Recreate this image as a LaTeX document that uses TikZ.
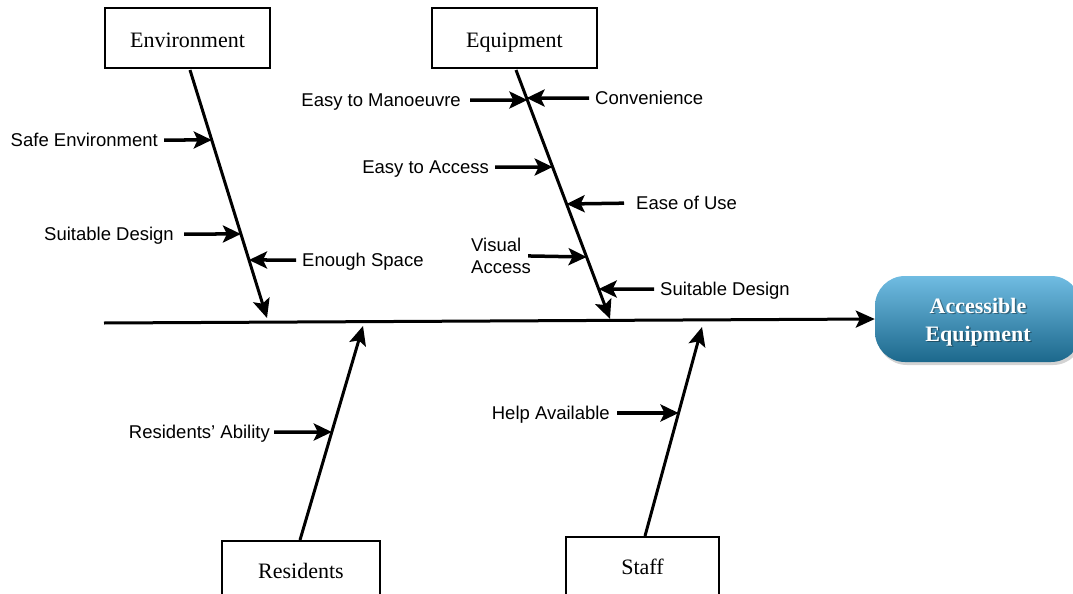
\documentclass[tikz,border=0pt]{standalone}
\usepackage{fontspec}
\setmainfont{Liberation Serif}
\setsansfont{Liberation Sans}
\usetikzlibrary{arrows.meta,shadows,calc}
\definecolor{headtop}{RGB}{112,188,226}
\definecolor{headbot}{RGB}{28,104,140}
\begin{document}
\begin{tikzpicture}[x=1pt,y=-1pt,
  cat/.style={draw,line width=1.6pt,minimum width=165pt,minimum height=60pt,
    inner sep=0pt,text height=18.6pt,text depth=0pt,font=\fontsize{22}{26}\selectfont},
  cause/.style={font=\sffamily\fontsize{18.5}{22}\selectfont,inner sep=0pt,
    text height=13pt,text depth=0pt},
  bone/.style={line width=3pt,-{Stealth[length=19pt,width=17pt,inset=4pt]}},
  twig/.style={line width=3.5pt,-{Stealth[length=18pt,width=17pt,inset=4pt]}},
  head/.style={rounded corners=30pt,minimum width=206pt,minimum height=86pt,
    top color=headtop,bottom color=headbot,
    drop shadow={opacity=0.35,shadow xshift=2pt,shadow yshift=-3pt}},
  headtext/.style={align=center,font=\bfseries\fontsize{22}{28}\selectfont}
]
\useasboundingbox (0,0) rectangle (1073,594);

% category boxes
\node[cat] (env) at (187.5,38) {Environment};
\node[cat] (equip) at (514.5,38) {Equipment};
\node[cat,minimum width=158pt,minimum height=64pt,text height=10.6pt,anchor=north] (res) at (301,540) {Residents};
\node[cat,minimum width=153pt,minimum height=64pt,text height=10.6pt,anchor=north] (staff) at (642.5,536) {Staff};

% effect
\node[head] (effect) at (978,319) {};
\node[headtext,text=black,opacity=0.35] (effectshade) at ($(effect)+(1.5,4.5)$) {Accessible\\Equipment};
\node[headtext,text=white] (effectlabel) at ($(effect)+(0,3)$) {Accessible\\Equipment};

% spine
\coordinate (tail) at (104,323);
\draw[bone] (tail) -- (effect.west);

% main bones
\coordinate (envTop) at (190,70);
\coordinate (envTip) at (267,318);
\coordinate (equipTop) at (516,70);
\coordinate (equipTip) at (610,319);
\coordinate (resBot) at (300,540);
\coordinate (resTip) at (363,326);
\coordinate (staffBot) at (645,536);
\coordinate (staffTip) at (702,327);
\draw[bone] (envTop) -- (envTip);
\draw[bone] (equipTop) -- (equipTip);
\draw[bone] (resBot) -- (resTip);
\draw[bone] (staffBot) -- (staffTip);

% causes: Environment
\node[cause,anchor=east] (c1) at (158,140) {Safe Environment};
\coordinate (t1) at (intersection of envTop--envTip and 0,140--1,140);
\draw[twig,shorten <=6pt] (c1.east) -- (t1);

\node[cause,anchor=east] (c2) at (174,234) {Suitable Design};
\coordinate (t2) at (intersection of envTop--envTip and 0,234--1,234);
\draw[twig,shorten <=10pt] (c2.east) -- (t2);

\node[cause,anchor=west] (c3) at (302,260) {Enough Space};
\coordinate (t3) at (intersection of envTop--envTip and 0,260--1,260);
\draw[twig,shorten <=6pt] (c3.west) -- (t3);

% causes: Equipment
\node[cause,anchor=east] (c4) at (461,100) {Easy to Manoeuvre};
\coordinate (t4) at (intersection of equipTop--equipTip and 0,100--1,100);
\draw[twig,shorten <=9pt] (c4.east) -- (t4);

\node[cause,anchor=west] (c5) at (595,98) {Convenience};
\coordinate (t5) at (intersection of equipTop--equipTip and 0,98--1,98);
\draw[twig,shorten <=6pt] (c5.west) -- (t5);

\node[cause,anchor=east] (c6) at (489,167) {Easy to Access};
\coordinate (t6) at (intersection of equipTop--equipTip and 0,167--1,167);
\draw[twig,shorten <=6pt] (c6.east) -- (t6);

\node[cause,anchor=west] (c7) at (636,203) {Ease of Use};
\coordinate (t7) at (intersection of equipTop--equipTip and 0,204--1,204);
\draw[twig,shorten <=12pt] (c7.west) -- (t7);

\node[cause,anchor=west,align=left,text height=,text depth=] (c8) at (471,256) {Visual\\Access};
\coordinate (t8) at (intersection of equipTop--equipTip and 0,257--1,257);
\draw[twig,shorten <=-3pt] (c8.east) -- (t8);

\node[cause,anchor=west] (c9) at (660,289) {Suitable Design};
\coordinate (t9) at (intersection of equipTop--equipTip and 0,289--1,289);
\draw[twig,shorten <=6pt] (c9.west) -- (t9);

% causes: Residents
\node[cause,anchor=east] (c10) at (270,432) {Residents’ Ability};
\coordinate (t10) at (intersection of resBot--resTip and 0,432--1,432);
\draw[twig,shorten <=4pt] (c10.east) -- (t10);

% causes: Staff
\node[cause,anchor=east] (c11) at (610,413) {Help Available};
\coordinate (t11) at (intersection of staffBot--staffTip and 0,413--1,413);
\draw[twig,shorten <=7pt] (c11.east) -- (t11);
\end{tikzpicture}
\end{document}
